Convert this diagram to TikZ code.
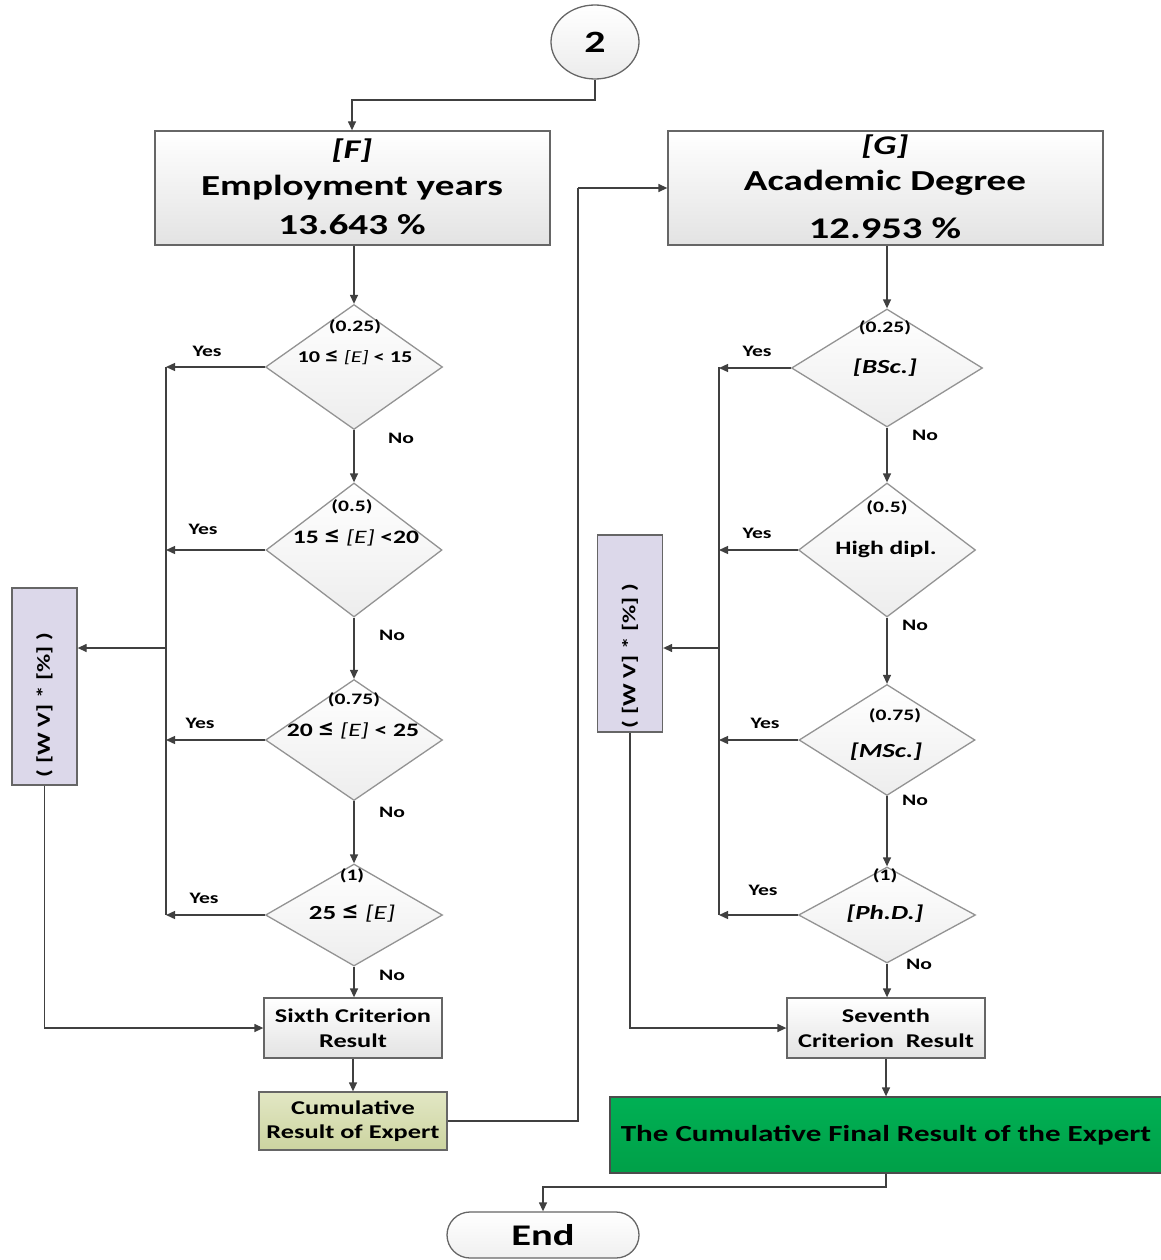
\documentclass[tikz,border=0pt]{standalone}
\usepackage{fontspec}
\setmainfont{Carlito}[FakeStretch=1.35]
\usetikzlibrary{shapes.geometric,arrows.meta}
\newcommand{\fsz}[1]{\fontsize{#1}{#1}\selectfont}
\newcommand{\myle}{\scalebox{1.25}{≤}}
\tikzset{
  ln/.style={draw=black!75, line width=1.3pt},
  ar/.style={ln, -{Triangle[length=9pt,width=8pt]}},
  gbox/.style={draw=gray!80!black, line width=1.3pt, top color=white, bottom color=gray!22, inner sep=0pt, align=center, font=\bfseries},
  dia/.style={diamond, draw=gray!85, line width=1.3pt, top color=white, bottom color=gray!14, inner sep=0pt},
  wv/.style={draw=gray!80!black, line width=1.3pt, fill={rgb,255:red,220;green,216;blue,234}, inner sep=0pt, minimum width=65pt, minimum height=197pt},
  yn/.style={font=\fsz{16}\bfseries, inner sep=0pt},
  dt/.style={font=\fsz{16}\bfseries, inner sep=0pt},
  dm/.style={font=\fsz{20}\bfseries, inner sep=0pt},
  ht/.style={font=\fsz{29}\bfseries, inner sep=0pt},
}
\begin{document}
\begin{tikzpicture}[x=1pt,y=-1pt]
\useasboundingbox (0,0) rectangle (1160,1260);
% start
\node[ellipse, draw=gray!80!black, line width=1.3pt, top color=white, bottom color=gray!15, minimum width=88pt, minimum height=74pt, inner sep=0pt, font=\fsz{31}\bfseries] (two) at (595,42) {2};
% top boxes
\node[gbox, minimum width=395pt, minimum height=114pt] (F) at (352.5,188) {};
\node[ht, font=\fsz{27}\bfseries\itshape] (Ft) at (352,151) {[F]};
\node[ht] (Fn) at (352,188) {Employment years};
\node[ht] (Fp) at (352,225) {13.643 \%};
\node[gbox, minimum width=435pt, minimum height=114pt] (G) at (885.5,188) {};
\node[ht, font=\fsz{27}\bfseries\itshape] (Gt) at (885,147) {[G]};
\node[ht] (Gn) at (885,183) {Academic Degree};
\node[ht, font=\fsz{30}\bfseries] (Gp) at (885,228) {12.953 \%};
% left diamonds
\node[dia, minimum width=177pt, minimum height=125pt] (D1) at (354,367) {};
\node[dia, minimum width=176pt, minimum height=134pt] (D2) at (354,550) {};
\node[dia, minimum width=177pt, minimum height=121pt] (D3) at (354,740) {};
\node[dia, minimum width=177pt, minimum height=102pt] (D4) at (354,915) {};
\node[dt] (D1a) at (355,327) {(0.25)};
\node[font=\fsz{16.5}\bfseries, inner sep=0pt] (D1b) at (355,358) {10 \myle{} {\mdseries\itshape [E]} < 15};
\node[dt] (D2a) at (352,507) {(0.5)};
\node[font=\fsz{19}\bfseries, inner sep=0pt] (D2b) at (356,538) {15 \myle{} {\mdseries\itshape [E]} <20};
\node[dt] (D3a) at (354,700) {(0.75)};
\node[font=\fsz{19}\bfseries, inner sep=0pt] (D3b) at (353,731) {20 \myle{} {\mdseries\itshape [E]} < 25};
\node[dt] (D4a) at (352,876) {(1)};
\node[font=\fsz{20}\bfseries, inner sep=0pt] (D4b) at (352,914) {25 \myle{} {\mdseries\itshape [E]}};
% right diamonds
\node[dia, minimum width=191pt, minimum height=118pt] (R1) at (887,368) {};
\node[dia, minimum width=177pt, minimum height=134pt] (R2) at (887,550) {};
\node[dia, minimum width=176pt, minimum height=111pt] (R3) at (887,740) {};
\node[dia, minimum width=177pt, minimum height=96pt] (R4) at (887,915) {};
\node[dt] (R1a) at (885,328) {(0.25)};
\node[dm, font=\fsz{20}\bfseries\itshape] (R1b) at (885,368) {[BSc.]};
\node[dt] (R2a) at (887,508) {(0.5)};
\node[dm, font=\fsz{19}\bfseries] (R2b) at (886,549) {High dipl.};
\node[dt] (R3a) at (895,716) {(0.75)};
\node[dm, font=\fsz{20}\bfseries\itshape] (R3b) at (886,752) {[MSc.]};
\node[dt] (R4a) at (885,876) {(1)};
\node[dm, font=\fsz{20}\bfseries\itshape] (R4b) at (885,914) {[Ph.D.]};
% WV boxes
\node[wv] (WL) at (44.5,686.5) {};
\node[font=\fsz{18.5}\bfseries, rotate=90, inner sep=0pt] (WLt) at (44.5,705) {( [W V] * [\%] )};
\node[wv] (WR) at (630,633.5) {};
\node[font=\fsz{18.5}\bfseries, rotate=90, inner sep=0pt] (WRt) at (630,656) {( [W V] * [\%] )};
% bottom boxes
\node[gbox, minimum width=178pt, minimum height=60pt, font=\fsz{19.5}\bfseries] (S6) at (353,1028) {Sixth Criterion\\[5pt]Result};
\node[gbox, minimum width=188pt, minimum height=58pt, draw=gray!80!black, top color={rgb,255:red,226;green,231;blue,196}, bottom color={rgb,255:red,204;green,212;blue,160}, font=\fsz{19.5}\bfseries] (CR) at (353,1121) {Cumulative\\[5pt]Result of Expert};
\node[gbox, minimum width=198pt, minimum height=60pt, font=\fsz{19.5}\bfseries] (S7) at (886,1028) {Seventh\\[5pt]Criterion\ \ Result};
\node[draw=gray!60!black, line width=1.3pt, top color={rgb,255:red,0;green,176;blue,84}, bottom color={rgb,255:red,0;green,160;blue,72}, minimum width=552pt, minimum height=76pt, inner sep=0pt, font=\fsz{23}\bfseries] (FR) at (886,1135) {The Cumulative Final Result of the Expert};
\node[draw=gray!80!black, line width=1.3pt, top color=white, bottom color=gray!12, rounded corners=23pt, minimum width=192pt, minimum height=46pt, inner sep=0pt, font=\fsz{30}\bfseries] (END) at (543,1235) {End};
% Yes / No labels
\node[yn] (y1) at (207,351) {Yes};
\node[yn] (y2) at (203,529) {Yes};
\node[yn] (y3) at (200,723) {Yes};
\node[yn] (y4) at (204,898) {Yes};
\node[yn] (y5) at (757,351) {Yes};
\node[yn] (y6) at (757,533) {Yes};
\node[yn] (y7) at (765,723) {Yes};
\node[yn] (y8) at (763,890) {Yes};
\node[yn] (n1) at (401,438) {No};
\node[yn] (n2) at (392,635) {No};
\node[yn] (n3) at (392,812) {No};
\node[yn] (n4) at (392,975) {No};
\node[yn] (n5) at (925,435) {No};
\node[yn] (n6) at (915,625) {No};
\node[yn] (n7) at (915,800) {No};
\node[yn] (n8) at (919,964) {No};
% coordinates
\coordinate (LB) at (166,367);
\coordinate (RB) at (719,367);
% connectors
\draw[ar] (two.south) |- (352,100) -- (F.north -| 352,0);
\draw[ar] (F.south -| D1.north) -- (D1.north);
\draw[ar] (D1.south) -- (D2.north);
\draw[ar] (D2.south) -- (D3.north);
\draw[ar] (D3.south) -- (D4.north);
\draw[ar] (D4.south) -- (S6.north -| D4.south);
\draw[ar] (D1.west) -- (D1.west -| LB);
\draw[ar] (D2.west) -- (D2.west -| LB);
\draw[ar] (D3.west) -- (D3.west -| LB);
\draw[ar] (D4.west) -- (D4.west -| LB);
\draw[ln] (LB) -- (D4.west -| LB);
\draw[ar] (166,648) -- (WL.east |- 0,648);
\draw[ar] (WL.south) |- (S6.west);
\draw[ar] (S6.south) -- (CR.north);
\draw[ln] (CR.east) -- (578,1121) -- (578,188);
\draw[ar] (578,188) -- (G.west);
\draw[ar] (G.south -| R1.north) -- (R1.north);
\draw[ar] (R1.south) -- (R2.north);
\draw[ar] (R2.south) -- (R3.north);
\draw[ar] (R3.south) -- (R4.north);
\draw[ar] (R4.south) -- (S7.north -| R4.south);
\draw[ar] (R1.west) -- (R1.west -| RB);
\draw[ar] (R2.west) -- (R2.west -| RB);
\draw[ar] (R3.west) -- (R3.west -| RB);
\draw[ar] (R4.west) -- (R4.west -| RB);
\draw[ln] (RB) -- (R4.west -| RB);
\draw[ar] (719,648) -- (WR.east |- 0,648);
\draw[ar] (WR.south) |- (S7.west);
\draw[ar] (S7.south) -- (S7.south |- FR.north);
\draw[ar] (FR.south -| 886,0) |- (543,1187) -- (END.north);
\end{tikzpicture}
\end{document}
